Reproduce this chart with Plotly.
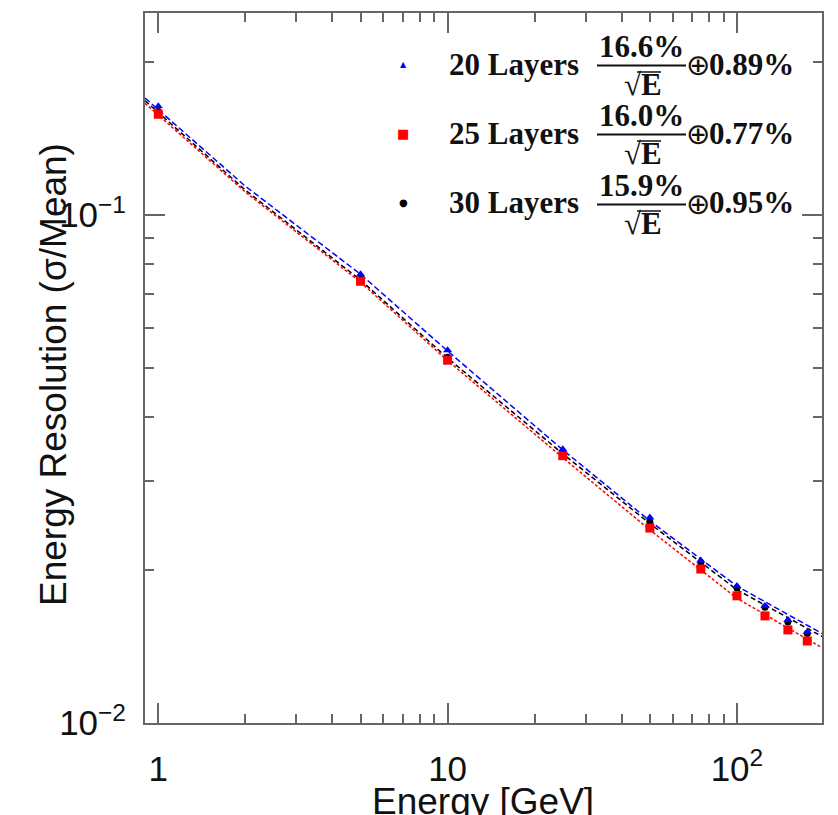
import plotly.graph_objects as go

# ---------------- data ----------------
energy = [1, 5, 10, 25, 50, 75, 100, 125, 150, 175]
res_20 = [0.1639, 0.0765, 0.0542, 0.0346, 0.0254, 0.0209, 0.01862, 0.0170, 0.01595, 0.0151]
res_25 = [0.158, 0.0741, 0.0518, 0.0336, 0.0242, 0.0201, 0.0178, 0.01625, 0.01525, 0.0145]
res_30 = [0.160, 0.0748, 0.0525, 0.0340, 0.0249, 0.0207, 0.01845, 0.0169, 0.0158, 0.0150]

fit_energy = [0.9, 2, 5, 10, 25, 50, 100, 197]
fit_20 = [0.170, 0.114, 0.0765, 0.0540, 0.0345, 0.0250, 0.0186, 0.0150]
fit_25 = [0.166, 0.111, 0.0738, 0.0517, 0.0333, 0.0240, 0.0176, 0.01406]
fit_30 = [0.168, 0.112, 0.0745, 0.0523, 0.0339, 0.0247, 0.0183, 0.0148]

legend_labels = ["20 Layers", "25 Layers", "30 Layers"]
legend_stoch = ["16.6%", "16.0%", "15.9%"]
legend_const = ["0.89%", "0.77%", "0.95%"]
colors = ["#0000ff", "#ff0000", "#000000"]

x_tickvals = [1, 10, 100]
x_ticktext = ["1", "10", "10<sup>2</sup>"]
y_tickvals = [0.01, 0.1]
y_ticktext = ["10<sup>−2</sup>", "10<sup>−1</sup>"]

x_minor = [2, 3, 4, 5, 6, 7, 8, 9, 20, 30, 40, 50, 60, 70, 80, 90]
y_minor = [0.02, 0.03, 0.04, 0.05, 0.06, 0.07, 0.08, 0.09, 0.2]

# ---------------- figure ----------------
W, H = 838, 815
L, R, T, B = 145, 822, 13, 723

def pxp(x):
    return (x - L) / (R - L)

def pyp(y):
    return (B - y) / (B - T)

fig = go.Figure()

# fit lines
fig.add_trace(go.Scatter(x=fit_energy, y=fit_30, mode="lines",
                         line=dict(color=colors[2], width=1.5, dash="5px,3px"), showlegend=False))
fig.add_trace(go.Scatter(x=fit_energy, y=fit_25, mode="lines",
                         line=dict(color=colors[1], width=1.5, dash="3px,2px"), showlegend=False))
fig.add_trace(go.Scatter(x=fit_energy, y=fit_20, mode="lines",
                         line=dict(color=colors[0], width=1.5, dash="6px,3px"), showlegend=False))

# points
fig.add_trace(go.Scatter(x=energy, y=res_30, mode="markers",
                         marker=dict(color=colors[2], size=7, symbol="circle"), showlegend=False))
fig.add_trace(go.Scatter(x=energy, y=res_25, mode="markers",
                         marker=dict(color=colors[1], size=9, symbol="square"), showlegend=False))
fig.add_trace(go.Scatter(x=energy, y=res_20, mode="markers",
                         marker=dict(color=colors[0], size=8, symbol="triangle-up"), showlegend=False))

axis_line = "#666666"
fig.update_xaxes(type="log", range=[-0.046, 2.294],
                 tickvals=x_tickvals, ticktext=x_ticktext,
                 ticks="inside", ticklen=20, tickwidth=2, tickcolor=axis_line,
                 minor=dict(tickvals=x_minor, ticks="inside", ticklen=9, tickwidth=2, tickcolor=axis_line),
                 showline=True, linecolor=axis_line, linewidth=2, mirror="allticks",
                 showgrid=False, zeroline=False,
                 tickfont=dict(family="Liberation Sans", size=35, color="#111111"),
                 ticklabelstandoff=14)
fig.update_yaxes(type="log", range=[-2, -0.602],
                 tickvals=y_tickvals, ticktext=y_ticktext,
                 ticks="inside", ticklen=20, tickwidth=2, tickcolor=axis_line,
                 minor=dict(tickvals=y_minor, ticks="inside", ticklen=9, tickwidth=2, tickcolor=axis_line),
                 showline=True, linecolor=axis_line, linewidth=2, mirror="allticks",
                 showgrid=False, zeroline=False,
                 tickfont=dict(family="Liberation Sans", size=35, color="#111111"),
                 ticklabelstandoff=10)

annotations = []
shapes = []

# axis titles
annotations.append(dict(text="Energy [GeV]", x=pxp(483), y=pyp(801), xref="paper", yref="paper",
                        showarrow=False, xanchor="center", yanchor="middle",
                        font=dict(family="Liberation Sans", size=37, color="#111111")))
annotations.append(dict(text="Energy Resolution (σ/Mean)", x=pxp(53), y=pyp(375), xref="paper", yref="paper",
                        showarrow=False, xanchor="center", yanchor="middle", textangle=-90,
                        font=dict(family="Liberation Sans", size=37, color="#111111")))

# legend
rows = [64, 133, 203]
marker_glyphs = ["▲", "■", "●"]
marker_sizes = [8, 13, 10]
serif = "Liberation Serif"
for i, rc in enumerate(rows):
    annotations.append(dict(text=marker_glyphs[i], x=pxp(403), y=pyp(rc), xref="paper", yref="paper",
                            showarrow=False, xanchor="center", yanchor="middle",
                            font=dict(family="DejaVu Sans", size=marker_sizes[i], color=colors[i])))
    annotations.append(dict(text="<b>" + legend_labels[i] + "</b>", x=pxp(447), y=pyp(rc), xref="paper",
                            yref="paper", showarrow=False, xanchor="left", yanchor="middle",
                            font=dict(family=serif, size=31, color="#111111")))
    annotations.append(dict(text="<b>" + legend_stoch[i] + "</b>", x=pxp(641), y=pyp(rc + 1), xref="paper",
                            yref="paper", showarrow=False, xanchor="center", yanchor="bottom",
                            font=dict(family=serif, size=31, color="#111111"), borderpad=0))
    annotations.append(dict(text="<b>√E</b>", x=pxp(643), y=pyp(rc + 2), xref="paper",
                            yref="paper", showarrow=False, xanchor="center", yanchor="top",
                            font=dict(family=serif, size=31, color="#111111"), borderpad=0))
    annotations.append(dict(text="⊕", x=pxp(685), y=pyp(rc + 1), xref="paper",
                            yref="paper", showarrow=False, xanchor="left", yanchor="middle",
                            font=dict(family="DejaVu Sans", size=29, color="#111111"), borderpad=0))
    annotations.append(dict(text="<b>" + legend_const[i] + "</b>", x=pxp(708), y=pyp(rc), xref="paper",
                            yref="paper", showarrow=False, xanchor="left", yanchor="middle",
                            font=dict(family=serif, size=31, color="#111111"), borderpad=0))
    shapes.append(dict(type="line", xref="paper", yref="paper",
                       x0=pxp(597), x1=pxp(686), y0=pyp(rc + 1.5), y1=pyp(rc + 1.5),
                       line=dict(color="#111111", width=2)))
    shapes.append(dict(type="line", xref="paper", yref="paper",
                       x0=pxp(637), x1=pxp(661), y0=pyp(rc + 8), y1=pyp(rc + 8),
                       line=dict(color="#111111", width=1.5)))

fig.update_layout(width=W, height=H, margin=dict(l=L, r=W - R, t=T, b=H - B),
                  paper_bgcolor="white", plot_bgcolor="white",
                  annotations=annotations, shapes=shapes, showlegend=False)

fig.write_html("out.html")
